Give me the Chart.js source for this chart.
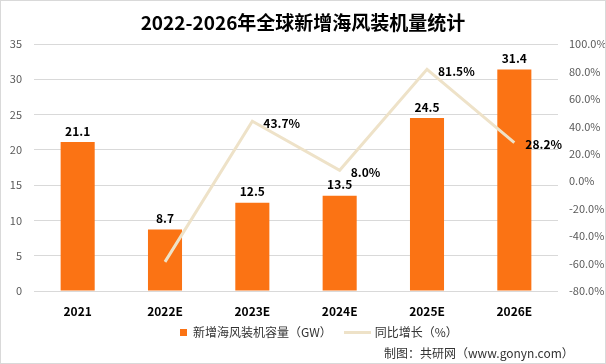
<!DOCTYPE html>
<html lang="zh-CN">
<head>
<meta charset="utf-8">
<title>2022-2026年全球新增海风装机量统计</title>
<script src="https://cdn.jsdelivr.net/npm/chart.js@4/dist/chart.umd.min.js"></script>
<style>
  html, body { margin: 0; padding: 0; background: #fff; }
  #frame {
    position: relative;
    width: 606px;
    height: 364px;
    box-sizing: border-box;
    border: 1px solid #d9d9d9;
    font-family: "Noto Sans CJK SC", "Noto Sans", sans-serif;
    overflow: hidden;
  }
  #chart { position: absolute; left: 0; top: 0; }
  .title {
    position: absolute; left: 0; right: 0; top: 8px;
    text-align: center; font-size: 19px; font-weight: bold; color: #000;
    line-height: 26px;
  }
  .legend {
    position: absolute; top: 322px; left: 179px;
    font-size: 12px; color: #333; line-height: 18px;
    display: flex; align-items: center; white-space: nowrap;
  }
  .swatch-bar { width: 7px; height: 7px; background: #fb7314; margin-right: 6px; }
  .swatch-line { width: 27px; height: 3px; background: #eee2c8; margin: 0 4px 0 12px; }
  .source {
    position: absolute; top: 343px; left: 383px;
    font-size: 12px; color: #333; line-height: 18px; white-space: nowrap;
  }
</style>
</head>
<body>
<div id="frame">
  <canvas id="chart" width="604" height="362"></canvas>
  <div class="title">2022-2026年全球新增海风装机量统计</div>
  <div class="legend">
    <span class="swatch-bar"></span><span>新增海风装机容量（GW）</span>
    <span class="swatch-line"></span><span>同比增长（%）</span>
  </div>
  <div class="source">制图：共研网（www.gonyn.com）</div>
</div>
<script>
"use strict";

const years = ["2021", "2022E", "2023E", "2024E", "2025E", "2026E"];
const capacityGW = [21.1, 8.7, 12.5, 13.5, 24.5, 31.4];
const growthPct = [null, -58.8, 43.7, 8.0, 81.5, 28.2];
const growthLabelShown = [false, false, true, true, true, true];

const leftTicks = { min: 0, max: 35, step: 5 };
const rightTicks = { min: -80, max: 100, step: 20 };

const FONT = '"Noto Sans CJK SC", "Noto Sans", sans-serif';

// value labels above bars, and to the right of line points
const valueLabels = {
  id: "valueLabels",
  afterDatasetsDraw(chart) {
    const ctx = chart.ctx;
    ctx.save();
    ctx.fillStyle = "#000";
    ctx.font = `bold 12px ${FONT}`;

    const bars = chart.getDatasetMeta(0).data;
    ctx.textAlign = "center";
    ctx.textBaseline = "bottom";
    bars.forEach((bar, i) => {
      ctx.fillText(capacityGW[i].toFixed(1), bar.x, bar.y - 5);
    });

    const points = chart.getDatasetMeta(1).data;
    ctx.textAlign = "left";
    ctx.textBaseline = "middle";
    points.forEach((pt, i) => {
      if (growthPct[i] === null || !growthLabelShown[i]) {
        return;
      }
      ctx.fillText(`${growthPct[i].toFixed(1)}%`, pt.x + 11, pt.y + 2);
    });
    ctx.restore();
  },
};

new Chart(document.getElementById("chart").getContext("2d"), {
  data: {
    labels: years,
    datasets: [
      {
        type: "bar",
        label: "新增海风装机容量（GW）",
        data: capacityGW,
        yAxisID: "y",
        backgroundColor: "#fb7314",
        barPercentage: 0.39,
        categoryPercentage: 1,
        order: 2,
      },
      {
        type: "line",
        label: "同比增长（%）",
        data: growthPct,
        yAxisID: "y2",
        borderColor: "#eee2c8",
        borderWidth: 3,
        pointRadius: 0,
        tension: 0,
        order: 1,
      },
    ],
  },
  options: {
    responsive: false,
    animation: false,
    layout: {
      padding: { top: 43, bottom: 42, left: 0, right: 0 },
    },
    plugins: {
      legend: { display: false },
      tooltip: { enabled: false },
    },
    scales: {
      x: {
        grid: { display: false },
        border: { display: false },
        ticks: {
          color: "#000",
          font: { family: FONT, size: 12, weight: "bold" },
          padding: 5,
        },
        afterFit(scale) { scale.height = 30; },
      },
      y: {
        position: "left",
        min: leftTicks.min,
        max: leftTicks.max,
        ticks: {
          stepSize: leftTicks.step,
          color: "#595959",
          font: { family: FONT, size: 11 },
          padding: 12,
        },
        grid: { color: "#d9d9d9", drawTicks: false },
        border: { display: false },
        afterFit(scale) { scale.width = 33; },
      },
      y2: {
        position: "right",
        min: rightTicks.min,
        max: rightTicks.max,
        ticks: {
          stepSize: rightTicks.step,
          color: "#595959",
          font: { family: FONT, size: 11 },
          padding: 11,
          crossAlign: "near",
          callback: (value) => `${Number(value).toFixed(1)}%`,
        },
        grid: { display: false, drawTicks: false },
        border: { display: false },
        afterFit(scale) { scale.width = 47; },
      },
    },
  },
  plugins: [valueLabels],
});
</script>
</body>
</html>
